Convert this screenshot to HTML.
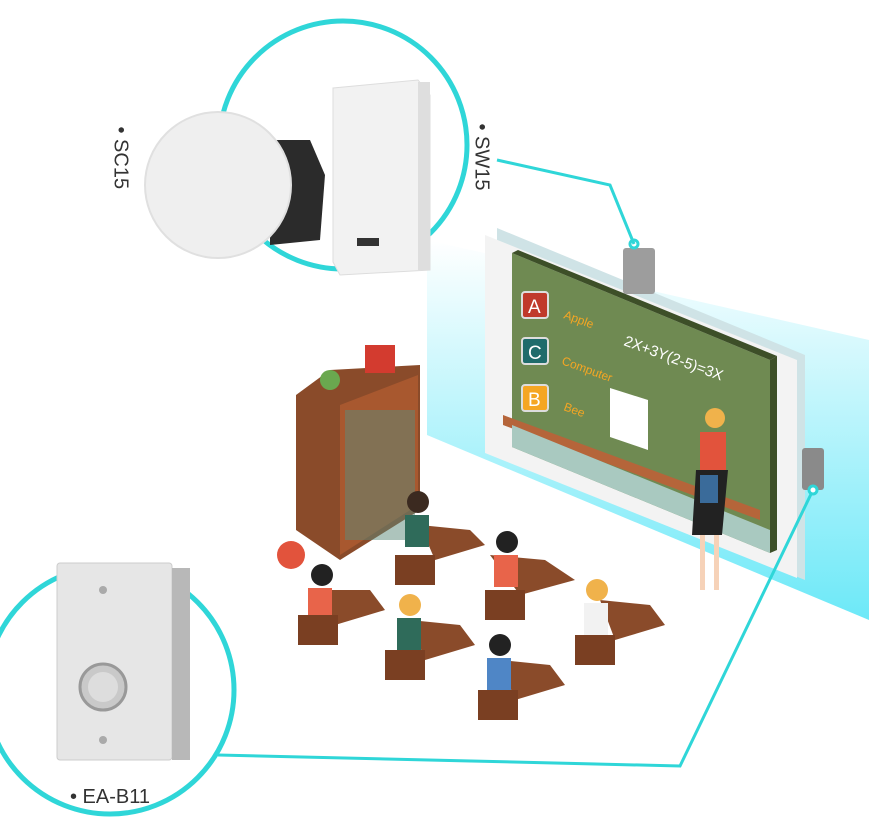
<!DOCTYPE html>
<html><head><meta charset="utf-8"><style>
html,body{margin:0;padding:0;background:#fff;}
body{width:869px;height:825px;position:relative;overflow:hidden;font-family:"Liberation Sans",sans-serif;}
.lbl{position:absolute;font-size:20px;color:#333;}
</style></head><body>
<svg width="869" height="825" style="position:absolute;left:0;top:0">
<defs>
<linearGradient id="wall2" x1="0" y1="0" x2="0" y2="1">
<stop offset="0" stop-color="#ffffff" stop-opacity="0.9"/><stop offset="1" stop-color="#5ce6f7" stop-opacity="0.9"/></linearGradient>
</defs>
<polygon points="427,240 869,340 869,620 427,435" fill="url(#wall2)"/>
<polygon points="497,228 805,355 805,580 497,455" fill="#cfe3e6"/>
<polygon points="485,235 797,360 797,578 485,453" fill="#f3f3f3"/>
<polygon points="512,253 770,360 770,553 512,447" fill="#6f8a52"/>
<polygon points="512,253 770,360 777,356 518,250" fill="#3d4f28"/>
<polygon points="770,360 777,356 777,550 770,553" fill="#3d4f28"/>
<polygon points="503,415 760,510 760,520 503,425" fill="#b5653a"/>
<polygon points="512,425 770,530 770,553 512,447" fill="#a9c9c0"/>
<rect x="522" y="292" width="26" height="26" rx="3" fill="#c0392b" stroke="#ddd" stroke-width="2"/>
<rect x="522" y="338" width="26" height="26" rx="3" fill="#1f6b6b" stroke="#ddd" stroke-width="2"/>
<rect x="522" y="385" width="26" height="26" rx="3" fill="#f5a623" stroke="#ddd" stroke-width="2"/>
<text x="528" y="313" fill="#fff" font-size="19">A</text>
<text x="528" y="359" fill="#fff" font-size="19">C</text>
<text x="528" y="406" fill="#fff" font-size="19">B</text>
<text x="563" y="318" fill="#f5a623" font-size="12" transform="rotate(20 563 318)">Apple</text>
<text x="561" y="364" fill="#f5a623" font-size="12" transform="rotate(20 561 364)">Computer</text>
<text x="563" y="410" fill="#f5a623" font-size="12" transform="rotate(20 563 410)">Bee</text>
<text x="623" y="345" fill="#fff" font-size="15" transform="rotate(20 623 345)">2X+3Y(2-5)=3X</text>
<polygon points="610,388 648,400 648,450 610,437" fill="#fff"/>
<circle cx="715" cy="418" r="10" fill="#f0b24b"/>
<rect x="700" y="432" width="26" height="40" fill="#e2533c"/>
<polygon points="696,470 728,470 722,535 692,535" fill="#222"/>
<rect x="700" y="535" width="5" height="55" fill="#f6d2b8"/><rect x="714" y="535" width="5" height="55" fill="#f6d2b8"/>
<rect x="700" y="475" width="18" height="28" fill="#3a6b9a"/>
<rect x="623" y="248" width="32" height="46" rx="3" fill="#9d9d9d"/>
<circle cx="634" cy="244" r="4" fill="#fff" stroke="#2fd6d8" stroke-width="3"/>
<rect x="802" y="448" width="22" height="42" rx="3" fill="#8a8a8a"/>
<polygon points="296,395 330,370 420,365 420,510 340,560 296,530" fill="#8a4b2a"/>
<polygon points="340,405 418,375 418,505 340,555" fill="#a8582f"/>
<rect x="345" y="410" width="70" height="130" fill="#5b8a7a" opacity="0.5"/>
<rect x="365" y="345" width="30" height="28" fill="#d33b2f"/>
<circle cx="330" cy="380" r="10" fill="#6aa84f"/>
<circle cx="291" cy="555" r="14" fill="#e2533c"/>
<g fill="#8a4b2a">
<polygon points="420,525 470,530 485,545 435,560"/>
<polygon points="490,555 545,560 575,580 520,595"/>
<polygon points="320,590 370,590 385,610 335,625"/>
<polygon points="410,620 460,625 475,645 425,660"/>
<polygon points="600,600 650,605 665,625 615,640"/>
<polygon points="500,660 550,665 565,685 515,700"/>
</g>
<g>
<circle cx="418" cy="502" r="11" fill="#3b2a20"/><rect x="405" y="515" width="24" height="32" fill="#2f6b5a"/>
<circle cx="507" cy="542" r="11" fill="#222"/><rect x="494" y="555" width="24" height="32" fill="#e8644a"/>
<circle cx="322" cy="575" r="11" fill="#222"/><rect x="308" y="588" width="24" height="32" fill="#e8644a"/>
<circle cx="410" cy="605" r="11" fill="#f0b24b"/><rect x="397" y="618" width="24" height="32" fill="#2f6b5a"/>
<circle cx="597" cy="590" r="11" fill="#f0b24b"/><rect x="584" y="603" width="24" height="32" fill="#f2f2f2"/>
<circle cx="500" cy="645" r="11" fill="#222"/><rect x="487" y="658" width="24" height="32" fill="#4f86c6"/>
</g>
<g fill="#7a3f22">
<rect x="395" y="555" width="40" height="30"/><rect x="485" y="590" width="40" height="30"/>
<rect x="298" y="615" width="40" height="30"/><rect x="385" y="650" width="40" height="30"/>
<rect x="575" y="635" width="40" height="30"/><rect x="478" y="690" width="40" height="30"/>
</g>
<polyline points="497,160 610,185 634,244" fill="none" stroke="#2fd6d8" stroke-width="3"/>
<polyline points="218,755 680,766 813,490" fill="none" stroke="#2fd6d8" stroke-width="3"/>
<circle cx="813" cy="490" r="4" fill="#fff" stroke="#2fd6d8" stroke-width="3"/>
<circle cx="343" cy="145" r="124" fill="#fff" stroke="#2fd6d8" stroke-width="5"/>
<polygon points="270,140 310,140 325,175 320,240 270,245" fill="#2b2b2b"/>
<circle cx="218" cy="185" r="73" fill="#efefef" stroke="#e0e0e0" stroke-width="2"/>
<polygon points="333,88 418,80 430,95 430,270 340,275 333,262" fill="#f2f2f2" stroke="#ddd"/>
<rect x="418" y="82" width="12" height="188" fill="#dedede"/>
<rect x="357" y="238" width="22" height="8" fill="#333"/>
<circle cx="110" cy="690" r="124" fill="#fff" stroke="#2fd6d8" stroke-width="5"/>
<rect x="57" y="563" width="115" height="197" rx="3" fill="#e6e6e6" stroke="#ccc"/>
<rect x="172" y="568" width="18" height="192" fill="#b8b8b8"/>
<circle cx="103" cy="687" r="23" fill="#c9c9c9" stroke="#999" stroke-width="3"/>
<circle cx="103" cy="687" r="15" fill="#ddd"/>
<circle cx="103" cy="590" r="4" fill="#aaa"/><circle cx="103" cy="740" r="4" fill="#aaa"/>
</svg>
<div class="lbl" style="left:70px;top:786px;">• EA-B11</div>
<div class="lbl" style="left:80px;top:155px;transform:rotate(90deg);transform-origin:center;width:80px;">• SC15</div>
<div class="lbl" style="left:441px;top:152px;transform:rotate(90deg);transform-origin:center;width:80px;">• SW15</div>
</body></html>
